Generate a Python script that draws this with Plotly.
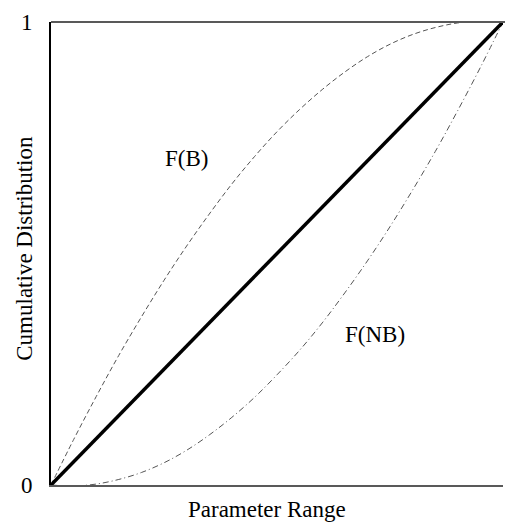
import plotly.graph_objects as go

# Parameter range (normalised) and the three cumulative distribution curves
param = [0.0, 0.05, 0.1, 0.15, 0.2, 0.25, 0.3, 0.35, 0.4, 0.45, 0.5, 0.55,
         0.6, 0.65, 0.7, 0.75, 0.8, 0.85, 0.9, 0.95, 1.0]
cdf_b = [0.0, 0.098, 0.191, 0.28, 0.363, 0.442, 0.516, 0.585, 0.65, 0.709,
         0.763, 0.811, 0.854, 0.892, 0.925, 0.952, 0.973, 0.988, 0.998, 1.002, 1.0]
cdf_nb = [0.0, -0.002, 0.002, 0.012, 0.027, 0.048, 0.075, 0.108, 0.146, 0.189,
          0.238, 0.291, 0.35, 0.415, 0.484, 0.558, 0.637, 0.72, 0.809, 0.902, 1.0]
cdf_uniform = [0.0, 1.0]
uniform_x = [0.0, 1.0]

y_ticks = [0, 1]
y_tick_text = ["0", "1"]

FONT = "Liberation Serif"
TXT = dict(family=FONT, size=23, color="black")

fig = go.Figure()
fig.add_trace(go.Scatter(x=param, y=cdf_b, mode="lines", line_shape="spline",
                         line=dict(color="#555555", width=1, dash="5px,3px"),
                         showlegend=False))
fig.add_trace(go.Scatter(x=param, y=cdf_nb, mode="lines", line_shape="spline",
                         line=dict(color="#555555", width=1, dash="6px,3px,1px,3px"),
                         showlegend=False))
fig.add_trace(go.Scatter(x=uniform_x, y=cdf_uniform, mode="lines",
                         line=dict(color="black", width=3.5), showlegend=False))

# curve labels
fig.add_annotation(x=0.299, y=0.706, text="F(B)", showarrow=False, font=TXT)
fig.add_annotation(x=0.717, y=0.326, text="F(NB)", showarrow=False, font=TXT)

# axis titles
fig.add_annotation(xref="paper", yref="paper", x=0.478, y=-0.052,
                   text="Parameter Range", showarrow=False, font=TXT,
                   xanchor="center", yanchor="middle")
fig.add_annotation(xref="paper", yref="paper", x=-0.058, y=0.512,
                   text="Cumulative Distribution", showarrow=False, font=TXT,
                   textangle=-90, xanchor="center", yanchor="middle")

# top frame line (no right-hand border)
fig.add_shape(type="line", xref="paper", yref="paper", x0=0, x1=1.01, y0=1, y1=1,
              line=dict(color="#595959", width=2))

fig.update_layout(
    width=505, height=523,
    margin=dict(l=51, r=2, t=22, b=38),
    paper_bgcolor="white", plot_bgcolor="white",
    font=dict(family=FONT, size=23, color="black"),
    xaxis=dict(range=[0, 1], showgrid=False, zeroline=False, showticklabels=False,
               ticks="", showline=True, linecolor="#595959", linewidth=2,
               automargin=False),
    yaxis=dict(range=[0, 1], showgrid=False, zeroline=False, tickvals=y_ticks,
               ticktext=y_tick_text, ticks="", showline=True, linecolor="black",
               linewidth=2, ticklabelstandoff=12, automargin=False,
               tickfont=TXT),
)

fig.write_html("out.html")
